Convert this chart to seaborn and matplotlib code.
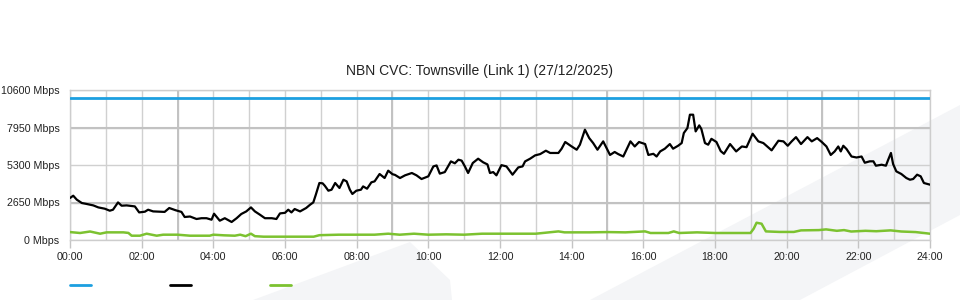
import matplotlib
matplotlib.use("Agg")
import matplotlib.pyplot as plt
import seaborn as sns
import pandas as pd
from matplotlib.lines import Line2D
from matplotlib.patches import Polygon

# ---------------- data ----------------
TITLE = "NBN CVC: Townsville (Link 1) (27/12/2025)"

capacity_hours = [0.0, 24.0]
capacity_mbps = [10000, 10000]

traffic_hours = [
    0.00, 0.09, 0.19, 0.33, 0.47, 0.65, 0.79, 0.97, 1.11, 1.20, 1.34, 1.44, 1.58, 1.81, 1.93,
    2.09, 2.18, 2.32, 2.50, 2.64, 2.77, 2.95, 3.11, 3.20, 3.35, 3.53, 3.67, 3.81, 3.95, 4.02,
    4.18, 4.32, 4.51, 4.65, 4.78, 4.92, 5.05, 5.16, 5.30, 5.44, 5.63, 5.76, 5.86, 6.00, 6.09,
    6.18, 6.27, 6.42, 6.59, 6.70, 6.79, 6.86, 6.96, 7.05, 7.11, 7.21, 7.30, 7.40, 7.52, 7.63,
    7.72, 7.81, 7.88, 7.99, 8.12, 8.18, 8.29, 8.41, 8.50, 8.64, 8.78, 8.88, 9.00, 9.07, 9.21,
    9.35, 9.54, 9.67, 9.81, 10.00, 10.14, 10.23, 10.32, 10.46, 10.63, 10.74, 10.84, 10.93, 11.02, 11.11,
    11.24, 11.39, 11.53, 11.65, 11.72, 11.81, 11.90, 12.04, 12.18, 12.35, 12.51, 12.63, 12.70, 12.84, 12.98,
    13.12, 13.28, 13.40, 13.63, 13.72, 13.82, 14.00, 14.14, 14.23, 14.37, 14.49, 14.60, 14.72, 14.88, 15.07,
    15.20, 15.30, 15.44, 15.53, 15.64, 15.76, 15.88, 16.05, 16.14, 16.28, 16.37, 16.47, 16.60, 16.74, 16.83,
    16.97, 17.07, 17.13, 17.23, 17.30, 17.39, 17.46, 17.56, 17.62, 17.72, 17.81, 17.90, 18.04, 18.16, 18.25,
    18.42, 18.59, 18.75, 18.88, 19.05, 19.21, 19.35, 19.58, 19.77, 19.91, 20.03, 20.14, 20.26, 20.40, 20.58,
    20.70, 20.85, 20.98, 21.11, 21.23, 21.34, 21.44, 21.51, 21.58, 21.67, 21.81, 21.95, 22.09, 22.18, 22.32,
    22.42, 22.49, 22.65, 22.77, 22.83, 22.91, 22.97, 23.06, 23.20, 23.34, 23.44, 23.53, 23.64, 23.74, 23.83,
    24.00,
]
traffic_mbps = [
    2968, 3130, 2848, 2614, 2544, 2445, 2304, 2212, 2070, 2141, 2657, 2424, 2445, 2374, 1950,
    2000, 2141, 2021, 2000, 1985, 2261, 2100, 1985, 1625, 1660, 1484, 1540, 1540, 1434, 1858,
    1364, 1540, 1272, 1540, 1837, 2021, 2304, 2021, 1788, 1540, 1540, 1484, 1880, 1920, 2141,
    1950, 2190, 2021, 2261, 2494, 2657, 3201, 4028, 4005, 3837, 3484, 3555, 4028, 3675, 4261,
    4144, 3555, 3251, 3484, 3555, 3788, 3626, 4075, 4144, 4664, 4380, 4900, 4650, 4600, 4380,
    4570, 4735, 4570, 4310, 4500, 5200, 5270, 4690, 4800, 5555, 5420, 5675, 5610, 5200, 4735,
    5440, 5745, 5490, 5340, 4735, 4800, 4570, 5290, 5200, 4616, 5130, 5200, 5555, 5745, 5980,
    6070, 6310, 6150, 6150, 6452, 6925, 6610, 6380, 6735, 7795, 7200, 6850, 6380, 6970, 6010,
    6220, 6070, 5900, 6380, 6970, 6610, 6925, 6780, 6010, 6090, 5900, 6260, 6452, 6780, 6452,
    6660, 6850, 7560, 7910, 8855, 8855, 7675, 8100, 7840, 6850, 6735, 7150, 6925, 6280, 6090,
    6780, 6260, 6610, 6560, 7510, 6970, 6850, 6335, 7015, 6970, 6660, 6970, 7270, 6780, 7270,
    6970, 7200, 6925, 6610, 6010, 6260, 6610, 6260, 6660, 6430, 5900, 5830, 5900, 5460, 5560,
    5560, 5250, 5320, 5250, 5650, 6150, 5370, 4850, 4664, 4380, 4260, 4310, 4616, 4500, 4028,
    3910,
]

other_hours = [
    0.00, 0.28, 0.56, 0.84, 1.02, 1.49, 1.63, 1.72, 1.95, 2.14, 2.42, 2.60, 3.00, 3.35, 3.90,
    4.00, 4.30, 4.60, 4.75, 4.90, 5.05, 5.16, 5.40, 6.00, 6.80, 6.96, 7.50, 8.00, 8.50, 8.88,
    9.20, 9.60, 10.00, 10.50, 11.00, 11.50, 12.00, 13.00, 13.63, 13.80, 14.50, 15.00, 15.50, 16.05, 16.20,
    16.70, 16.85, 17.00, 17.50, 18.00, 18.50, 18.99, 19.08, 19.16, 19.30, 19.42, 19.80, 20.20, 20.40, 20.90,
    21.10, 21.40, 21.60, 21.80, 22.20, 22.50, 22.90, 23.20, 23.60, 24.00,
]
other_mbps = [
    560, 495, 600, 445, 540, 540, 500, 304, 304, 445, 304, 375, 375, 304, 304,
    375, 330, 304, 375, 270, 445, 270, 234, 234, 234, 340, 375, 375, 375, 445,
    375, 445, 375, 400, 375, 445, 445, 445, 608, 540, 540, 560, 540, 608, 495,
    495, 608, 495, 540, 495, 495, 495, 800, 1220, 1150, 608, 570, 570, 680, 700,
    750, 650, 700, 600, 650, 620, 680, 600, 560, 445,
]

y_ticks = [0, 2650, 5300, 7950, 10600]
y_labels = ["0 Mbps", "2650 Mbps", "5300 Mbps", "7950 Mbps", "10600 Mbps"]
x_ticks = list(range(0, 25, 2))
x_labels = [f"{h:02d}:00" for h in x_ticks]

BLUE = "#1c9fe0"
GREEN = "#7cc230"

# ---------------- figure ----------------
sns.set_theme(style="white")
plt.rcParams["font.family"] = ["Liberation Sans", "DejaVu Sans"]

W, H = 960, 300
fig = plt.figure(figsize=(W / 100, H / 100), dpi=100)
fig.patch.set_facecolor("white")

def fpx(pts):
    return [(x / W, 1 - y / H) for x, y in pts]

# watermark shapes
for pts in (
    [(253, 300), (410, 242), (450, 280), (452, 300)],
    [(590, 300), (960, 105), (960, 215), (800, 300)],
):
    fig.add_artist(Polygon(fpx(pts), closed=True, transform=fig.transFigure,
                           facecolor="#f4f5f7", edgecolor="none", zorder=0))

ax = fig.add_axes([70 / W, 60 / H, 860 / W, 150 / H])
ax.set_facecolor("none")

df_cap = pd.DataFrame({"hour": capacity_hours, "mbps": capacity_mbps})
df_tr = pd.DataFrame({"hour": traffic_hours, "mbps": traffic_mbps})
df_ot = pd.DataFrame({"hour": other_hours, "mbps": other_mbps})

sns.lineplot(data=df_cap, x="hour", y="mbps", ax=ax, color=BLUE, lw=2, estimator=None, zorder=5)
sns.lineplot(data=df_ot, x="hour", y="mbps", ax=ax, color=GREEN, lw=1.8, estimator=None, zorder=5)
sns.lineplot(data=df_tr, x="hour", y="mbps", ax=ax, color="black", lw=1.6, estimator=None, zorder=6)

ax.set_xlim(0, 24)
ax.set_ylim(0, 10600)
ax.set_xlabel("")
ax.set_ylabel("")

ax.set_xticks(x_ticks)
ax.set_xticklabels(x_labels)
ax.set_xticks(range(0, 25), minor=True)
ax.set_yticks(y_ticks)
ax.set_yticklabels(y_labels)

ax.tick_params(axis="x", which="major", length=5.8, width=1, color="#c4c4c4",
               pad=3, labelsize=7.7, labelcolor="#222222", direction="out", bottom=True)
ax.tick_params(axis="x", which="minor", length=0)
ax.tick_params(axis="y", length=0, pad=7.5, labelsize=7.7, labelcolor="#222222")
for lbl in ax.get_yticklabels():
    lbl.set_y(lbl.get_position()[1])

ax.grid(True, which="both", axis="x", color="#d0d0d0", lw=1, zorder=1)
ax.grid(True, which="major", axis="y", color="#d0d0d0", lw=1, zorder=1)
for h in (3, 9, 15, 21):
    ax.axvline(h, color="#c2c2c2", lw=1.4, zorder=1)
for v in (2650, 7950):
    ax.axhline(v, color="#c2c2c2", lw=1.5, zorder=1)

for s in ax.spines.values():
    s.set_color("#cdcdcd")
    s.set_linewidth(1)

fig.text(479 / W, 1 - 71 / H, TITLE, ha="center", va="center", fontsize=10, color="#222222")

# legend swatches (no text)
for x0, c in ((70, BLUE), (170, "black"), (270, GREEN)):
    fig.add_artist(Line2D([x0 / W, (x0 + 21) / W], [1 - 285 / H, 1 - 285 / H],
                          transform=fig.transFigure, color=c, lw=2))

fig.savefig("out.png", dpi=100)
